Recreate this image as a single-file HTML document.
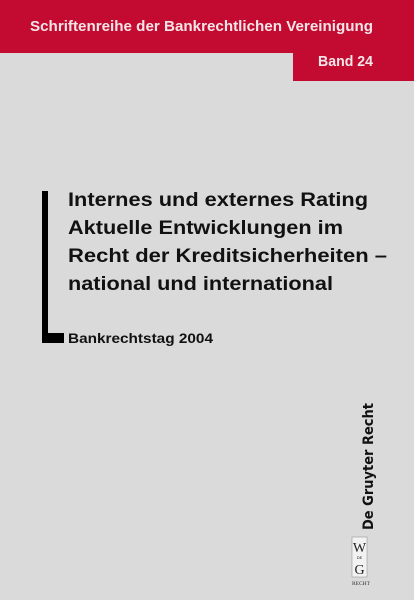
<!DOCTYPE html>
<html><head><meta charset="utf-8"><style>
html,body{margin:0;padding:0;background:#d9dad9;}
svg{display:block;}
</style></head><body>
<svg width="414" height="600" viewBox="0 0 414 600" xmlns="http://www.w3.org/2000/svg">
<rect x="0" y="0" width="414" height="600" fill="#d9dad9"/>
<rect x="0" y="0" width="414" height="53" fill="#c30b31"/>
<rect x="293" y="52" width="121" height="29" fill="#c30b31"/>
<text x="30" y="31" font-family="Liberation Sans, sans-serif" font-weight="bold" font-size="15" fill="#f4e6e8" textLength="343" lengthAdjust="spacingAndGlyphs">Schriftenreihe der Bankrechtlichen Vereinigung</text>
<text x="318" y="66" font-family="Liberation Sans, sans-serif" font-weight="bold" font-size="15" fill="#f4e6e8" textLength="55" lengthAdjust="spacingAndGlyphs">Band 24</text>
<rect x="42" y="191" width="6" height="152" fill="#000"/>
<rect x="42" y="333" width="22" height="10" fill="#000"/>
<g font-family="Liberation Sans, sans-serif" font-weight="bold" font-size="19" fill="#111">
<text x="68" y="206" textLength="300" lengthAdjust="spacingAndGlyphs">Internes und externes Rating</text>
<text x="68" y="234" textLength="275" lengthAdjust="spacingAndGlyphs">Aktuelle Entwicklungen im</text>
<text x="68" y="262" textLength="319" lengthAdjust="spacingAndGlyphs">Recht der Kreditsicherheiten –</text>
<text x="68" y="290" textLength="265" lengthAdjust="spacingAndGlyphs">national und international</text>
</g>
<text x="68" y="343" font-family="Liberation Sans, sans-serif" font-weight="bold" font-size="14" fill="#111" textLength="145" lengthAdjust="spacingAndGlyphs">Bankrechtstag 2004</text>
<text transform="translate(373,530) rotate(-90)" x="0" y="0" font-family="DejaVu Sans, sans-serif" font-weight="bold" font-size="14" fill="#111" textLength="127" lengthAdjust="spacingAndGlyphs">De Gruyter Recht</text>
<g>
<rect x="352" y="537" width="15" height="40" fill="#f2f2f2" stroke="#999" stroke-width="0.6"/>
<text x="359.5" y="552" text-anchor="middle" font-family="Liberation Serif, serif" font-size="14" fill="#222">W</text>
<text x="359.5" y="559" text-anchor="middle" font-family="Liberation Sans, sans-serif" font-size="4" fill="#222">DE</text>
<text x="359.5" y="574" text-anchor="middle" font-family="Liberation Serif, serif" font-size="14" fill="#222">G</text>
<text x="352" y="585" font-family="Liberation Serif, serif" font-size="5" fill="#333" textLength="18" lengthAdjust="spacingAndGlyphs">RECHT</text>
</g>
</svg>
</body></html>
